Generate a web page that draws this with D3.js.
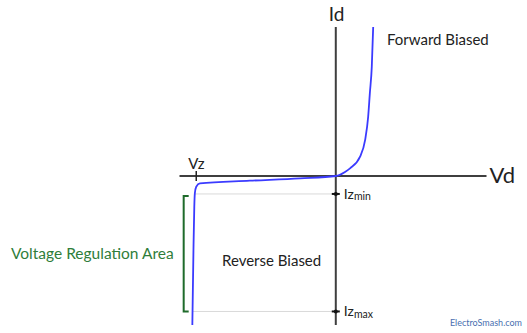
<!DOCTYPE html>
<html>
<head>
<meta charset="utf-8">
<script src="https://cdn.jsdelivr.net/npm/d3@7"></script>
<style>
  html, body { margin: 0; padding: 0; background: #fff; }
  svg { display: block; font-family: Lato, "Open Sans", sans-serif; }
</style>
</head>
<body>
<svg id="chart" width="527" height="333"></svg>
<script>
// ---- data (arbitrary units) ----
const voltage = [-5.14, -5.10, -5.07, -5.05, -5.00, -4.87, -3.08, -1.28, 0, 0.33, 0.51, 0.87, 1.05, 1.16, 1.22, 1.29, 1.34];
const current = [-44, -21.9, -9.1, -5.1, -3.16, -2.16, -1.39, -0.68, 0, 1.2, 2.27, 5.7, 10.6, 17.5, 24.4, 32.3, 44];
const vz = -5.0;
const izLevels = [-5.3, -40];
const izSubs = ["min", "max"];
const xDomain = [-5.6, 5.4];
const yDomain = [-44, 44];
const axisNames = { x: "Vd", y: "Id" };
const regionLabels = ["Forward Biased", "Reverse Biased", "Voltage Regulation Area"];
const credit = "ElectroSmash.com";

// ---- scales ----
const x = d3.scaleLinear().domain(xDomain).range([179.5, 486.5]);
const y = d3.scaleLinear().domain(yDomain).range([325, 27]);

const svg = d3.select("#chart");
const axisColor = "#3f3f3f";
const blue = "#3b3bff";
const green = "#2f7d3a";

// helper: voltage on curve at a given current (linear interpolation of data)
function vAt(i) {
  for (let k = 0; k < current.length - 1; k++) {
    if (i >= current[k] && i <= current[k + 1]) {
      const t = (i - current[k]) / (current[k + 1] - current[k]);
      return voltage[k] + t * (voltage[k + 1] - voltage[k]);
    }
  }
  return voltage[0];
}

// guide lines at Iz levels
svg.selectAll("line.guide").data(izLevels).enter().append("line")
  .attr("class", "guide")
  .attr("x1", d => x(vAt(d))).attr("x2", x(0))
  .attr("y1", d => y(d)).attr("y2", d => y(d))
  .attr("stroke", "#d9d9d9").attr("stroke-width", 1);

// axes
svg.append("line")
  .attr("x1", x(xDomain[0])).attr("x2", x(xDomain[1]))
  .attr("y1", y(0)).attr("y2", y(0))
  .attr("stroke", axisColor).attr("stroke-width", 2);
svg.append("line")
  .attr("x1", x(0)).attr("x2", x(0))
  .attr("y1", y(yDomain[1])).attr("y2", y(yDomain[0]))
  .attr("stroke", axisColor).attr("stroke-width", 2);

// Vz tick
svg.append("line")
  .attr("x1", x(vz)).attr("x2", x(vz))
  .attr("y1", y(0) - 5).attr("y2", y(0) + 5)
  .attr("stroke", "#222").attr("stroke-width", 1.5);
svg.append("text").attr("x", x(vz) - 8).attr("y", y(0) - 7)
  .attr("font-size", 15).attr("fill", "#222").text("Vz");

// Iz ticks & labels
svg.selectAll("line.iztick").data(izLevels).enter().append("line")
  .attr("class", "iztick")
  .attr("x1", x(0) - 4).attr("x2", x(0) + 4)
  .attr("y1", d => y(d)).attr("y2", d => y(d))
  .attr("stroke", "#111").attr("stroke-width", 2);
svg.selectAll("circle.izdot").data(izLevels).enter().append("circle")
  .attr("class", "izdot")
  .attr("cx", x(0)).attr("cy", d => y(d)).attr("r", 2)
  .attr("fill", "#111");
const izText = svg.selectAll("text.iz").data(izLevels).enter().append("text")
  .attr("class", "iz")
  .attr("x", x(0) + 8).attr("y", d => y(d) + 5)
  .attr("font-size", 14).attr("fill", "#222");
izText.append("tspan").text("Iz");
izText.append("tspan").attr("font-size", 10.5).attr("dy", 1.5).text((d, i) => izSubs[i]);

// curve
const line = d3.line()
  .x((d, i) => x(voltage[i]))
  .y((d, i) => y(current[i]))
  .curve(d3.curveMonotoneX);
svg.append("path")
  .datum(voltage)
  .attr("d", line)
  .attr("fill", "none")
  .attr("stroke", blue)
  .attr("stroke-width", 1.8);

// bracket for regulation area
const bx = x(-5.45);
svg.append("path")
  .attr("d", `M${bx + 5},${y(izLevels[0]) + 2} H${bx} V${y(izLevels[1])} H${bx + 5}`)
  .attr("fill", "none").attr("stroke", "#1f6b2b").attr("stroke-width", 2);

// axis names
svg.append("text").attr("x", x(0) - 7).attr("y", 21)
  .attr("font-size", 19).attr("fill", "#222").text(axisNames.y);
svg.append("text").attr("x", x(xDomain[1]) + 3).attr("y", y(0) + 7)
  .attr("font-size", 22).attr("fill", "#222").text(axisNames.x);

// region labels
svg.append("text").attr("x", 387).attr("y", 45)
  .attr("font-size", 15).attr("fill", "#222").text(regionLabels[0]);
svg.append("text").attr("x", 222).attr("y", 266)
  .attr("font-size", 15).attr("fill", "#222").text(regionLabels[1]);
svg.append("text").attr("x", 11).attr("y", 259)
  .attr("font-size", 15.5).attr("fill", green).text(regionLabels[2]);

// credit
svg.append("text").attr("x", 522).attr("y", 326)
  .attr("text-anchor", "end")
  .attr("font-size", 9).attr("fill", "#4a6fb0").text(credit);
</script>
</body>
</html>
